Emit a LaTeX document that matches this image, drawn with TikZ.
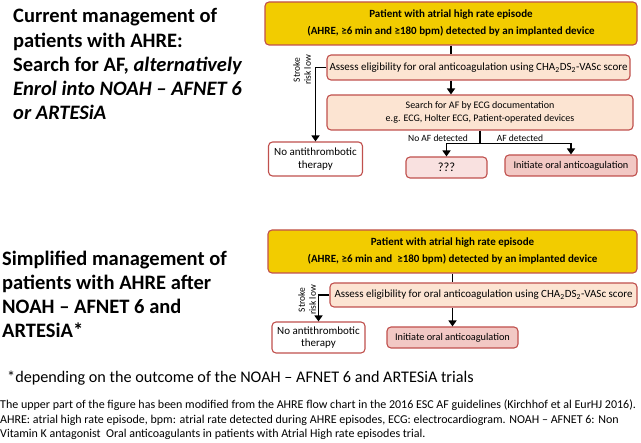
\documentclass[tikz,border=0pt]{standalone}
\usepackage{fontspec}
\setmainfont{Carlito}
\usetikzlibrary{arrows.meta, positioning, calc}

\definecolor{boxred}{RGB}{192,80,77}
\definecolor{ahreyellow}{RGB}{242,204,0}
\definecolor{peach}{RGB}{252,228,210}
\definecolor{rosy}{RGB}{242,200,196}
\definecolor{palerose}{RGB}{249,225,224}

\begin{document}
\begin{tikzpicture}[x=1pt, y=-1pt,
    flowbox/.style={draw=boxred, line width=1.1pt, rounded corners=4pt, align=center, inner sep=1pt},
    flowline/.style={line width=1.7pt},
    flowarrow/.style={line width=1.7pt, -{Triangle[length=6pt, width=8pt]}},
    title/.style={font=\fontsize{20.5}{24.3}\selectfont\bfseries, align=left, anchor=base west, inner sep=0pt},
    small/.style={font=\fontsize{9.5}{11}\selectfont}]
    \useasboundingbox (0,0) rectangle (641,443);

    % upper part
    \node[title] (curtitle) at (13,120) {Current management of\\patients with AHRE:\\Search for AF, \textit{alternatively}\\\textit{Enrol into NOAH -- AFNET 6}\\\textit{or ARTESiA}};

    \node[flowbox, fill=ahreyellow, minimum width=372pt, minimum height=43pt, font=\fontsize{11}{17}\selectfont\bfseries] (ahre1) at (451,23.5) {Patient with atrial high rate episode\\(AHRE, ≥6 min and ≥180 bpm) detected by an implanted device};
    \node[flowbox, fill=peach, minimum width=303pt, minimum height=25pt, font=\fontsize{11}{12}\selectfont] (elig1) at (478.5,67.5) {Assess eligibility for oral anticoagulation using CHA\textsubscript{2}DS\textsubscript{2}-VASc score};
    \node[flowbox, fill=peach, minimum width=306pt, minimum height=35pt, font=\fontsize{10}{12.5}\selectfont] (search1) at (480,112.5) {Search for AF by ECG documentation\\e.g. ECG, Holter ECG, Patient-operated devices};
    \node[flowbox, fill=white, minimum width=94pt, minimum height=34pt, font=\fontsize{11}{12.5}\selectfont] (noanti1) at (315.5,159) {No antithrombotic\\therapy};
    \node[flowbox, fill=palerose, minimum width=81pt, minimum height=21pt, font=\fontsize{12.5}{14}\selectfont] (unknown) at (446.5,167.5) {???};
    \node[flowbox, fill=rosy, minimum width=132pt, minimum height=21pt, font=\fontsize{10.3}{12}\selectfont] (oac1) at (571,165.5) {Initiate oral anticoagulation};

    \draw[flowline] (ahre1.south) -- (ahre1.south |- elig1.north);
    \draw[flowarrow] (ahre1.south |- elig1.south) -- (ahre1.south |- search1.north);
    \draw[flowarrow] (elig1.west) -| (noanti1.north);
    \node[small, rotate=90, align=center] (risk1) at (302,70) {Stroke\\risk low};

    \coordinate (split) at ($(search1.south)+(0,13)$);
    \draw[flowline] (search1.south) -- (split);
    \draw[flowarrow] (split) -| (unknown.north);
    \draw[flowarrow] (split) -| (oac1.north);
    \node[small, anchor=base] (noaf) at (438,142) {No AF detected};
    \node[small, anchor=base] (yesaf) at (520,142) {AF detected};

    % lower part
    \node[title] (simtitle) at (2,338) {Simplified management of\\patients with AHRE after\\NOAH -- AFNET 6 and\\ARTESiA*};

    \node[flowbox, fill=ahreyellow, minimum width=369pt, minimum height=43pt, font=\fontsize{11}{17}\selectfont\bfseries] (ahre2) at (452.5,251.5) {Patient with atrial high rate episode\\(AHRE, ≥6 min and \ ≥180 bpm) detected by an implanted device};
    \node[flowbox, fill=peach, minimum width=307pt, minimum height=24pt, font=\fontsize{11}{12}\selectfont] (elig2) at (483.5,295) {Assess eligibility for oral anticoagulation using CHA\textsubscript{2}DS\textsubscript{2}-VASc score};
    \node[flowbox, fill=white, minimum width=93pt, minimum height=31pt, font=\fontsize{11}{12.5}\selectfont] (noanti2) at (318.5,337.5) {No antithrombotic\\therapy};
    \node[flowbox, fill=rosy, minimum width=131pt, minimum height=21pt, font=\fontsize{10.3}{12}\selectfont] (oac2) at (452.5,337.5) {Initiate oral anticoagulation};

    \draw[flowline] (ahre2.south) -- (ahre2.south |- elig2.north);
    \draw[flowarrow] (ahre2.south |- elig2.south) -- (oac2.north);
    \draw[flowarrow] (elig2.west) -| (noanti2.north);
    \node[small, rotate=90, align=center] (risk2) at (307,300) {Stroke\\risk low};

    % notes
    \node[anchor=base west, inner sep=0pt, font=\fontsize{16.2}{18}\selectfont] (footnote) at (7,383) {*depending on the outcome of the NOAH -- AFNET 6 and ARTESiA trials};
    \node[anchor=base west, inner sep=0pt, align=left, font=\fontsize{12}{14.5}\selectfont] (caption) at (0,438) {The upper part of the figure has been modified from the AHRE flow chart in the 2016 ESC AF guidelines (Kirchhof et al EurHJ 2016).\\AHRE: atrial high rate episode, bpm: atrial rate detected during AHRE episodes, ECG: electrocardiogram. NOAH -- AFNET 6: Non\\Vitamin K antagonist \ Oral anticoagulants in patients with Atrial High rate episodes trial.};
\end{tikzpicture}
\end{document}
